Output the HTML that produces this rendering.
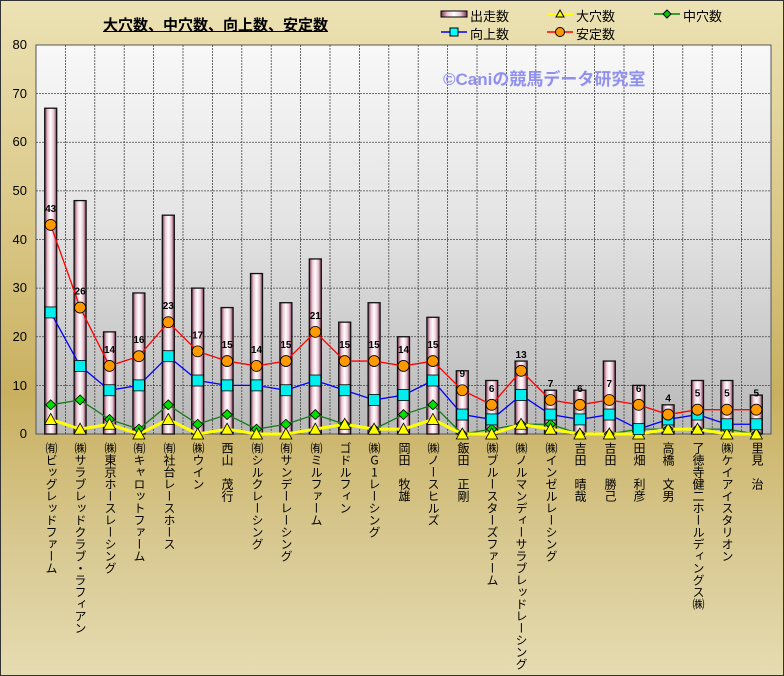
<!DOCTYPE html>
<html><head><meta charset="utf-8"><style>
html,body{margin:0;padding:0;overflow:hidden}
html{width:784px;height:676px}
body{width:784px;height:676px;position:relative;overflow:hidden;font-family:"Liberation Sans","Noto Sans CJK JP",sans-serif;
background:linear-gradient(to bottom,#ece2b4 0%,#d9c684 35%,#c9b060 58%,#d8c890 80%,#e6dcb2 100%);}
.frame{position:absolute;left:0;top:0;width:782px;height:674px;border:1px solid #333}
.t{position:absolute;font-size:13px;color:#000}
.yl{position:absolute;left:0;width:27px;text-align:right;font-size:13px}
.vl{position:absolute;top:442px;writing-mode:vertical-rl;text-orientation:upright;font-family:"Noto Sans CJK JP",sans-serif;font-size:12px;line-height:14px;width:14px;white-space:nowrap}
.b{top:478px}
</style></head><body>
<div class="frame"></div>
<div class="t" style="left:103px;top:14px;font-size:15px;font-weight:bold;text-decoration:underline">大穴数、中穴数、向上数、安定数</div>
<svg style="position:absolute;left:0;top:0" width="784" height="676" id="s">
<defs>
<linearGradient id="pg" x1="0" y1="0" x2="0" y2="1"><stop offset="0" stop-color="#f8f8f8"/><stop offset="0.45" stop-color="#e4e4e4"/><stop offset="1" stop-color="#b8b8b8"/></linearGradient>
<linearGradient id="bg" x1="0" y1="0" x2="1" y2="0"><stop offset="0" stop-color="#7a3050"/><stop offset="0.25" stop-color="#e8c8d4"/><stop offset="0.5" stop-color="#ffffff"/><stop offset="0.75" stop-color="#e8c8d4"/><stop offset="1" stop-color="#7a3050"/></linearGradient>
</defs>
<rect x="36" y="45" width="735" height="389" fill="url(#pg)" stroke="#555" stroke-width="1"/>
<g id="g"></g>
<rect x="441" y="11" width="26" height="6" fill="url(#bg)" stroke="#000"/>
<line x1="547" y1="14" x2="573" y2="14" stroke="#ffff00" stroke-width="2"/><polygon points="560,10 564,17 556,17" fill="#ff0" stroke="#000"/>
<line x1="654" y1="14" x2="680" y2="14" stroke="#080" stroke-width="1.5"/><polygon points="667,10 671,14 667,18 663,14" fill="#0c0" stroke="#000"/>
<line x1="441" y1="32" x2="467" y2="32" stroke="#00f" stroke-width="1.5"/><rect x="450" y="28" width="8" height="8" fill="#0ff" stroke="#000"/>
<line x1="547" y1="32" x2="573" y2="32" stroke="#f00" stroke-width="1.5"/><circle cx="560" cy="32" r="4.5" fill="#f90" stroke="#000"/>
</svg>
<div class="t" style="left:470px;top:6px">出走数</div>
<div class="t" style="left:576px;top:6px">大穴数</div>
<div class="t" style="left:683px;top:6px">中穴数</div>
<div class="t" style="left:470px;top:24px">向上数</div>
<div class="t" style="left:576px;top:24px">安定数</div>
<div class="t" style="left:443px;top:65px;font-size:17px;font-weight:bold;color:#9090f0">©Caniの競馬データ研究室</div>
<div class="yl" style="top:37px">80</div>
<div class="yl" style="top:86px">70</div>
<div class="yl" style="top:134px">60</div>
<div class="yl" style="top:183px">50</div>
<div class="yl" style="top:232px">40</div>
<div class="yl" style="top:280px">30</div>
<div class="yl" style="top:329px">20</div>
<div class="yl" style="top:378px">10</div>
<div class="yl" style="top:426px">0</div>
<div class="vl" style="left:44px">㈲ビッグレッドファーム</div>
<div class="vl" style="left:73px">㈱サラブレッドクラブ・ラフィアン</div>
<div class="vl" style="left:103px">㈱東京ホースレーシング</div>
<div class="vl" style="left:132px">㈲キャロットファーム</div>
<div class="vl" style="left:162px">㈲社台レースホース</div>
<div class="vl" style="left:191px">㈱ウイン</div>
<div class="vl" style="left:220px">西山</div><div class="vl b" style="left:220px">茂行</div>
<div class="vl" style="left:250px">㈲シルクレーシング</div>
<div class="vl" style="left:279px">㈲サンデーレーシング</div>
<div class="vl" style="left:309px">㈲ミルファーム</div>
<div class="vl" style="left:338px">ゴドルフィン</div>
<div class="vl" style="left:367px">㈱G1レーシング</div>
<div class="vl" style="left:397px">岡田</div><div class="vl b" style="left:397px">牧雄</div>
<div class="vl" style="left:426px">㈱ノースヒルズ</div>
<div class="vl" style="left:456px">飯田</div><div class="vl b" style="left:456px">正剛</div>
<div class="vl" style="left:485px">㈱ブルースターズファーム</div>
<div class="vl" style="left:514px">㈱ノルマンディーサラブレッドレーシング</div>
<div class="vl" style="left:544px">㈱インゼルレーシング</div>
<div class="vl" style="left:573px">吉田</div><div class="vl b" style="left:573px">晴哉</div>
<div class="vl" style="left:603px">吉田</div><div class="vl b" style="left:603px">勝己</div>
<div class="vl" style="left:632px">田畑</div><div class="vl b" style="left:632px">利彦</div>
<div class="vl" style="left:661px">高橋</div><div class="vl b" style="left:661px">文男</div>
<div class="vl" style="left:691px">了徳寺健二ホールディングス㈱</div>
<div class="vl" style="left:720px">㈱ケイアイスタリオン</div>
<div class="vl" style="left:750px">里見</div><div class="vl b" style="left:750px">治</div>
<script>
var D=[[67,43,25,6,3],[48,26,14,7,1],[21,14,9,3,2],[29,16,10,1,0],[45,23,16,6,3],[30,17,11,2,0],[26,15,10,4,1],[33,14,10,1,0],[27,15,9,2,0],[36,21,11,4,1],[23,15,9,2,2],[27,15,7,1,1],[20,14,8,4,1],[24,15,11,6,3],[13,9,4,0,0],[11,6,3,1,0],[15,13,8,2,2],[9,7,4,2,1],[9,6,3,0,0],[15,7,4,0,0],[10,6,1,1,0],[6,4,3,1,1],[11,5,4,1,1],[11,5,2,1,0],[8,5,2,0,0]];
var L=36,T=45,B=434,W=735/25,k=(B-T)/80,h='';
function y(v){return B-v*k}function x(i){return L+W*(i+0.5)}
for(var v=10;v<80;v+=10)h+='<line x1="36" x2="771" y1="'+y(v)+'" y2="'+y(v)+'" stroke="#444" stroke-dasharray="2,1" stroke-width="0.8"/>';
for(var i=1;i<25;i++)h+='<line y1="45" y2="434" x1="'+(L+W*i)+'" x2="'+(L+W*i)+'" stroke="#444" stroke-dasharray="2,1" stroke-width="0.8"/>';
D.forEach(function(d,i){h+='<rect x="'+(x(i)-6)+'" y="'+y(d[0])+'" width="12" height="'+(d[0]*k)+'" fill="url(#bg)" stroke="#111" stroke-width="1.3"/>'});
function line(j,c,w){var p=D.map(function(d,i){return x(i)+','+y(d[j])}).join(' ');h+='<polyline points="'+p+'" fill="none" stroke="'+c+'" stroke-width="'+w+'"/>'}
line(3,'#1a7a1a',1.3);line(4,'#ffff00',3);line(2,'#0000ff',1.3);line(1,'#ff0000',1.3);
D.forEach(function(d,i){var X=x(i),Y;
Y=y(d[3]);h+='<polygon points="'+X+','+(Y-5)+' '+(X+5)+','+Y+' '+X+','+(Y+5)+' '+(X-5)+','+Y+'" fill="#0d0" stroke="#000" stroke-width="0.8"/>';
Y=y(d[4]);h+='<polygon points="'+X+','+(Y-6)+' '+(X+6)+','+(Y+5)+' '+(X-6)+','+(Y+5)+'" fill="#ff0" stroke="#000" stroke-width="0.8"/>';
Y=y(d[2]);h+='<rect x="'+(X-5.5)+'" y="'+(Y-5.5)+'" width="11" height="11" fill="#0ee" stroke="#000" stroke-width="0.8"/>';
Y=y(d[1]);h+='<circle cx="'+X+'" cy="'+Y+'" r="5.5" fill="#f90" stroke="#000" stroke-width="0.8"/>';
h+='<text x="'+X+'" y="'+(Y-13)+'" text-anchor="middle" font-size="10" font-weight="bold" font-family="Liberation Sans,sans-serif">'+d[1]+'</text>';});
document.getElementById('g').innerHTML=h;
</script>
</body></html>
